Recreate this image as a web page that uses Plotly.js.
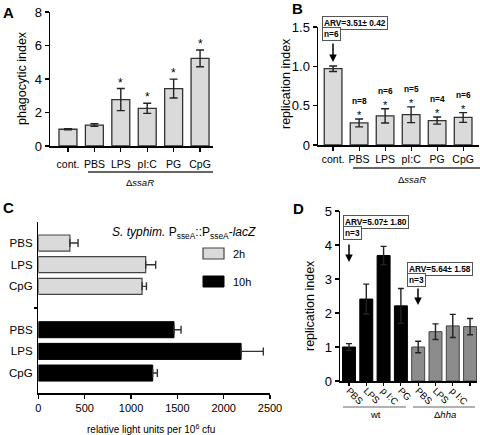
<!DOCTYPE html>
<html><head><meta charset="utf-8">
<script src="https://cdn.plot.ly/plotly-3.0.1.min.js"></script>
<style>html,body{margin:0;padding:0;background:#fff}#chart{width:480px;height:435px}</style>
</head><body><div id="chart"></div>
<script>
// ---- Panel A: phagocytic index ----
const catsA = ['cont.','PBS','LPS','pI:C','PG','CpG'];
const valsA = [1.0, 1.25, 2.77, 2.25, 3.43, 5.23];
const errA  = [0.03, 0.08, 0.66, 0.30, 0.56, 0.50];
const sigA  = [false, false, true, true, true, true];
// ---- Panel B: replication index ----
const catsB = ['cont.','PBS','LPS','pI:C','PG','CpG'];
const valsB = [0.97, 0.28, 0.37, 0.385, 0.31, 0.35];
const errB  = [0.035, 0.05, 0.09, 0.10, 0.045, 0.062];
const nB    = ['', 'n=8', 'n=6', 'n=5', 'n=4', 'n=6'];
// ---- Panel C: relative light units ----
const catsC    = ['PBS','LPS','CpG'];
const valsC2h  = [340, 1158, 1119];
const errC2h   = [88, 108, 47];
const valsC10h = [1464, 2188, 1234];
const errC10h  = [76, 240, 50];
// ---- Panel D: replication index wt / Δhha ----
const catsD    = ['PBS','LPS','p I:C','PG'];
const valsDwt  = [1.0, 2.41, 3.69, 2.21];
const errDwt   = [0.10, 0.44, 0.27, 0.51];
const valsDhha = [1.0, 1.45, 1.62, 1.60];
const errDhha  = [0.17, 0.23, 0.34, 0.24];

const W = 480, H = 435;
const px = x => x / W;
const py = y => 1 - y / H;
const FONT = 'Liberation Sans, Arial, sans-serif';
const LIGHT = '#dadada', EDGE = '#333';

const idx = a => a.map((_, i) => i);

const traces = [
  { type:'bar', x: catsA, y: valsA, xaxis:'x', yaxis:'y', width:0.68,
    marker:{color:LIGHT, line:{color:EDGE, width:1.3}},
    error_y:{type:'data', array:errA, color:'#222', thickness:1.4, width:4} },
  { type:'bar', x: catsB, y: valsB, xaxis:'x2', yaxis:'y2', width:0.68,
    marker:{color:LIGHT, line:{color:EDGE, width:1.3}},
    error_y:{type:'data', array:errB, color:'#222', thickness:1.4, width:4} },
  { type:'bar', orientation:'h', y: idx(catsC), x: valsC2h, xaxis:'x3', yaxis:'y3', width:0.74, name:'2h',
    marker:{color:LIGHT, line:{color:'#444', width:1.2}},
    error_x:{type:'data', symmetric:false, array:errC2h, arrayminus:errC2h.map(()=>0), color:'#333', thickness:1.4, width:4} },
  { type:'bar', orientation:'h', y: idx(catsC).map(i => i + 4), x: valsC10h, xaxis:'x3', yaxis:'y3', width:0.74, name:'10h',
    marker:{color:'#000', line:{color:'#000', width:1}},
    error_x:{type:'data', symmetric:false, array:errC10h, arrayminus:errC10h.map(()=>0), color:'#333', thickness:1.4, width:4} },
  { type:'bar', x: idx(catsD), y: valsDwt, xaxis:'x4', yaxis:'y4', width:0.75,
    marker:{color:'#000', line:{color:'#000', width:1}},
    error_y:{type:'data', array:errDwt, color:'#222', thickness:1.4, width:3} },
  { type:'bar', x: idx(catsD).map(i => i + 4), y: valsDhha, xaxis:'x4', yaxis:'y4', width:0.75,
    marker:{color:'#8c8c8c', line:{color:'#444', width:1}},
    error_y:{type:'data', array:errDhha, color:'#222', thickness:1.4, width:3} }
];

const axBase = { showline:true, linecolor:'#000', linewidth:1.5, ticks:'outside', tickcolor:'#000',
  ticklen:4, tickwidth:1.2, showgrid:false, zeroline:false, fixedrange:true };

const layout = {
  width:W, height:H, margin:{l:0, r:0, t:0, b:0}, showlegend:false,
  paper_bgcolor:'#fff', plot_bgcolor:'rgba(0,0,0,0)', bargap:0.3,
  font:{family:FONT, color:'#000'},
  // A
  xaxis: Object.assign({}, axBase, {domain:[px(50), px(213)], anchor:'y', type:'category',
    range:[-0.68, 5.49], tickfont:{size:10.5}, ticklabelstandoff:4}),
  yaxis: Object.assign({}, axBase, {domain:[py(146), py(12)], anchor:'x', range:[0, 8], dtick:2,
    tickfont:{size:13}}),
  // B
  xaxis2: Object.assign({}, axBase, {domain:[px(318), px(479)], anchor:'y2', type:'category',
    range:[-0.58, 5.61], tickfont:{size:10.5}}),
  yaxis2: Object.assign({}, axBase, {domain:[py(145), py(27)], anchor:'x2', range:[0, 1.5],
    tickvals:[0, 0.5, 1, 1.5], ticktext:['0','0.5','1.0','1.5'], tickfont:{size:13}}),
  // C
  xaxis3: Object.assign({}, axBase, {domain:[px(38.4), px(270)], anchor:'y3', range:[0, 2500],
    dtick:500, tickfont:{size:11}}),
  yaxis3: Object.assign({}, axBase, {domain:[py(393), py(222)], anchor:'x3', range:[6.92, -0.97],
    tickvals:[0,1,2,4,5,6], ticktext:catsC.concat(catsC), tickcolor:'rgba(0,0,0,0)', ticklen:2,
    tickfont:{size:11.5}, minor:{tickvals:[3], ticks:'outside', ticklen:3, tickcolor:'#000', tickwidth:1.2}}),
  // D
  xaxis4: Object.assign({}, axBase, {domain:[px(340), px(477)], anchor:'y4', range:[-0.52, 7.4],
    tickvals:idx(catsD).concat(idx(catsD).map(i => i + 4)), ticktext:catsD.concat(catsD),
    tickangle:45, ticklen:3, ticklabelstandoff:-4, tickfont:{size:9.5}}),
  yaxis4: Object.assign({}, axBase, {domain:[py(381), py(211)], anchor:'x4', range:[0, 5], dtick:1,
    tickfont:{size:13}}),
  shapes: [], annotations: []
};

const ann = layout.annotations, shp = layout.shapes;
function txt(x, y, text, opts) {
  ann.push(Object.assign({xref:'paper', yref:'paper', x:px(x), y:py(y), text:text, showarrow:false,
    xanchor:'center', yanchor:'middle', font:{family:FONT, size:11, color:'#000'}}, opts || {}));
}
function hline(x0, x1, y, color, w) {
  shp.push({type:'line', xref:'paper', yref:'paper', x0:px(x0), x1:px(x1), y0:py(y), y1:py(y),
    line:{color:color, width:w}});
}
function arrow(x, yTop, yBot) {
  ann.push({xref:'paper', yref:'paper', x:px(x), y:py(yBot), ax:0, ay:-(yBot - yTop), text:'',
    showarrow:true, arrowhead:2, arrowsize:1, arrowwidth:1.5, arrowcolor:'#000', standoff:0});
}
function box(x, y, text) {
  ann.push({xref:'paper', yref:'paper', x:px(x), y:py(y), xanchor:'left', yanchor:'top', text:'<b>'+text+'</b>',
    showarrow:false, font:{family:FONT, size:8.3, color:'#000'}, bgcolor:'#fff', bordercolor:'#555',
    borderwidth:1, borderpad:1});
}

// panel letters
txt(8, 12, '<b>A</b>', {font:{family:FONT, size:15}});
txt(297, 8, '<b>B</b>', {font:{family:FONT, size:15}});
txt(8, 207, '<b>C</b>', {font:{family:FONT, size:15}});
txt(298, 208, '<b>D</b>', {font:{family:FONT, size:15}});

// axis titles
txt(22, 78, 'phagocytic index', {textangle:-90, font:{family:FONT, size:12.5}});
txt(286, 84, 'replication index', {textangle:-90, font:{family:FONT, size:12.5}});
txt(310, 306, 'replication index', {textangle:-90, font:{family:FONT, size:12.5}});
txt(151, 429, 'relative light units per 10<sup>6</sup> cfu', {font:{family:FONT, size:10}});

// A stars
catsA.forEach((c, i) => {
  if (sigA[i]) ann.push({xref:'x', yref:'y', x:c, y:valsA[i] + errA[i], text:'*', showarrow:false,
    yanchor:'bottom', yshift:-3, font:{family:FONT, size:12}});
});
// B stars and n labels
catsB.forEach((c, i) => {
  if (nB[i]) {
    ann.push({xref:'x2', yref:'y2', x:c, y:valsB[i] + errB[i], text:'*', showarrow:false,
      yanchor:'bottom', yshift:-4, font:{family:FONT, size:11}});
    ann.push({xref:'x2', yref:'y2', x:c, y:valsB[i] + errB[i], text:'<b>'+nB[i]+'</b>', showarrow:false,
      yanchor:'bottom', yshift:11, font:{family:FONT, size:8.3}});
  }
});

// group underlines
hline(88, 213, 172, '#666', 2);
txt(140, 183, 'Δ<i>ssaR</i>', {font:{family:FONT, size:9.5}});
hline(353, 480, 168, '#666', 2);
txt(412, 179, 'Δ<i>ssaR</i>', {font:{family:FONT, size:9.5}});
hline(343, 406, 407, '#999', 1.5);
hline(413, 475, 407, '#999', 1.5);
txt(375, 414, 'wt', {font:{family:FONT, size:9.5}});
txt(445, 414, 'Δ<i>hha</i>', {font:{family:FONT, size:9.5}});

// ARV boxes and arrows
box(322, 16, 'ARV=3.51± 0.42');
box(322, 26.5, 'n=6');
arrow(333, 42, 62);
box(343, 215.5, 'ARV=5.07± 1.80');
box(343, 226, 'n=3');
arrow(349, 243, 262);
box(407, 262, 'ARV=5.64± 1.58');
box(407, 272.5, 'n=3');
arrow(418, 287, 305);

// C title and legend
txt(184, 233, '<i>S. typhim.</i> P<sub>sseA</sub>::P<sub>sseA</sub>-<i>lacZ</i>', {font:{family:FONT, size:12}});
shp.push({type:'rect', xref:'paper', yref:'paper', x0:px(203), x1:px(224), y0:py(259), y1:py(248),
  fillcolor:LIGHT, line:{color:'#444', width:1.2}});
shp.push({type:'rect', xref:'paper', yref:'paper', x0:px(203), x1:px(224), y0:py(287), y1:py(276),
  fillcolor:'#000', line:{color:'#000', width:1}});
txt(231, 254, traces[2].name, {xanchor:'left', font:{family:FONT, size:11}});
txt(231, 282, traces[3].name, {xanchor:'left', font:{family:FONT, size:11}});

Plotly.newPlot('chart', traces, layout, {staticPlot:true, displayModeBar:false});
</script>
</body></html>
